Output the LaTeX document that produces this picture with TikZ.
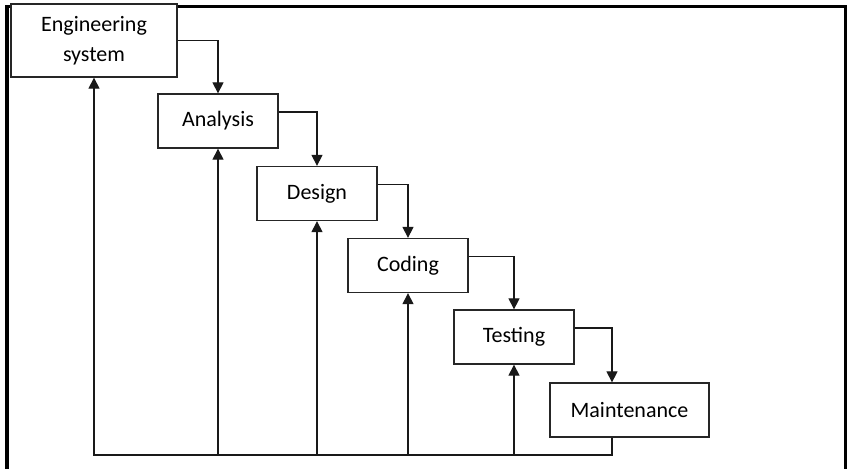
\documentclass[tikz,border=0pt]{standalone}
\usepackage{fontspec}
\setmainfont{Carlito}
\usetikzlibrary{arrows.meta, positioning}

\begin{document}
\begin{tikzpicture}[
  x=0.5pt, y=-0.5pt,
  stage/.style={rectangle, draw=black!85, fill=white, line width=0.65pt,
                font=\fontsize{11}{15}\selectfont, align=center, inner sep=0pt,
                minimum width=60pt, minimum height=27pt},
  flow/.style={draw=black!90, line width=0.6pt, -{Triangle[width=5.5pt,length=5.5pt]}},
  frame/.style={draw=black, line width=1.8pt},
]
  \fill[white, use as bounding box] (0,0) rectangle (850,468);

  \draw[frame] (7,480) -- (7,6.5) -- (845.5,6.5) -- (845.5,480);

  \node[stage, minimum width=83pt, minimum height=36.5pt] (eng) at (94,40.5) {Engineering\\system};
  \node[stage] (ana) at (218,121)   {Analysis};
  \node[stage] (des) at (317,193.5) {Design};
  \node[stage] (cod) at (408,265.5) {Coding};
  \node[stage] (tst) at (514,337)   {Testing};
  \node[stage, minimum width=79.5pt] (mnt) at (629.5,410) {Maintenance};

  % forward steps
  \draw[flow] (eng.east) -| (ana.north);
  \draw[flow] ([yshift=4.5pt]ana.east) -| (des.north);
  \draw[flow] ([yshift=4.5pt]des.east) -| (cod.north);
  \draw[flow] ([yshift=4.5pt]cod.east) -| (tst.north);
  \draw[flow] ([yshift=4.5pt]tst.east) -| ([xshift=-8.75pt]mnt.north);

  % feedback
  \coordinate (bot) at (0,455);
  \draw[flow] ([xshift=-8.75pt]mnt.south) |- (eng.south |- bot) -- (eng.south);
  \foreach \s in {ana,des,cod,tst}
    \draw[flow] (\s.south |- bot) -- (\s.south);
\end{tikzpicture}
\end{document}
